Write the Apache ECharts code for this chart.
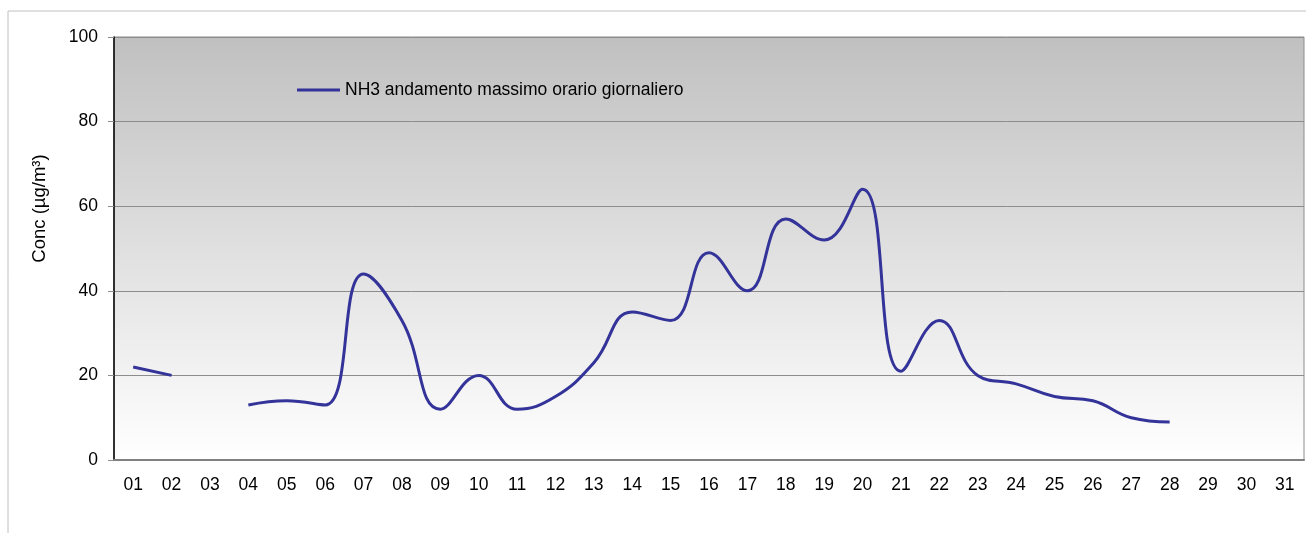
<!DOCTYPE html>
<html>
<head>
<meta charset="utf-8">
<script src="https://cdn.jsdelivr.net/npm/echarts@6/dist/echarts.min.js"></script>
<style>
  html, body { margin: 0; padding: 0; background: #fff; }
  #chart { width: 1306px; height: 533px; }
</style>
</head>
<body>
<div id="chart"></div>
<script>
// days of the month
const days = ['01', '02', '03', '04', '05', '06', '07', '08', '09', '10', '11', '12', '13', '14', '15', '16',
    '17', '18', '19', '20', '21', '22', '23', '24', '25', '26', '27', '28', '29', '30', '31']
// daily max hourly NH3 (null = no data)
const nh3Max = [22, 20, null, 13, 14, 13, 44, 33, 12, 20, 12, 15, 23, 35, 33, 49,
    40, 57, 52, 64, 21, 33, 20, 18, 15, 14, 10, 9, null, null, null]
const seriesName = 'NH3 andamento massimo orario giornaliero'
const yTicks = [0, 20, 40, 60, 80, 100]

const font = 'Liberation Sans, Arial, sans-serif'
const myChart = echarts.init(document.getElementById('chart'))

myChart.setOption({
    animation: false,
    backgroundColor: '#fff',
    textStyle: { fontFamily: font },
    graphic: [{
        type: 'rect',
        shape: { x: 8, y: 11, width: 1320, height: 560 },
        style: { fill: 'none', stroke: '#c0c0c0', lineWidth: 1 },
        silent: true
    }],
    grid: {
        left: 114,
        top: 37,
        right: 2,
        bottom: 73,
        show: true,
        borderColor: '#8c8c8c',
        borderWidth: 1,
        backgroundColor: new echarts.graphic.LinearGradient(0, 0, 0, 1, [
            { offset: 0, color: '#c0c0c0' },
            { offset: 1, color: '#ffffff' }
        ])
    },
    legend: {
        left: 292,
        top: 76,
        icon: 'rect',
        itemWidth: 43,
        itemHeight: 3,
        itemGap: 6,
        textStyle: { fontSize: 17.5, color: '#000', fontFamily: font },
        data: [seriesName]
    },
    xAxis: {
        type: 'category',
        data: days,
        boundaryGap: true,
        axisLine: { lineStyle: { color: '#808080', width: 2 } },
        axisTick: { show: false },
        axisLabel: { color: '#000', fontSize: 17.5, margin: 16 },
        splitLine: { show: false }
    },
    yAxis: {
        type: 'value',
        min: yTicks[0],
        max: yTicks[yTicks.length - 1],
        interval: 20,
        name: 'Conc (µg/m³)',
        nameLocation: 'middle',
        nameGap: 65,
        nameTextStyle: { color: '#000', fontSize: 18.5, padding: [0, 0, 0, 80] },
        axisLine: { show: true, lineStyle: { color: '#000', width: 1.5 } },
        axisTick: { show: true, length: 6, lineStyle: { color: '#8c8c8c' } },
        axisLabel: { color: '#000', fontSize: 17.5, margin: 16 },
        splitLine: { lineStyle: { color: '#8c8c8c', width: 1 } }
    },
    series: [{
        name: seriesName,
        type: 'line',
        data: nh3Max,
        smooth: 0.45,
        symbol: 'none',
        connectNulls: false,
        lineStyle: { color: '#333399', width: 3 },
        itemStyle: { color: '#333399' }
    }]
})
</script>
</body>
</html>
